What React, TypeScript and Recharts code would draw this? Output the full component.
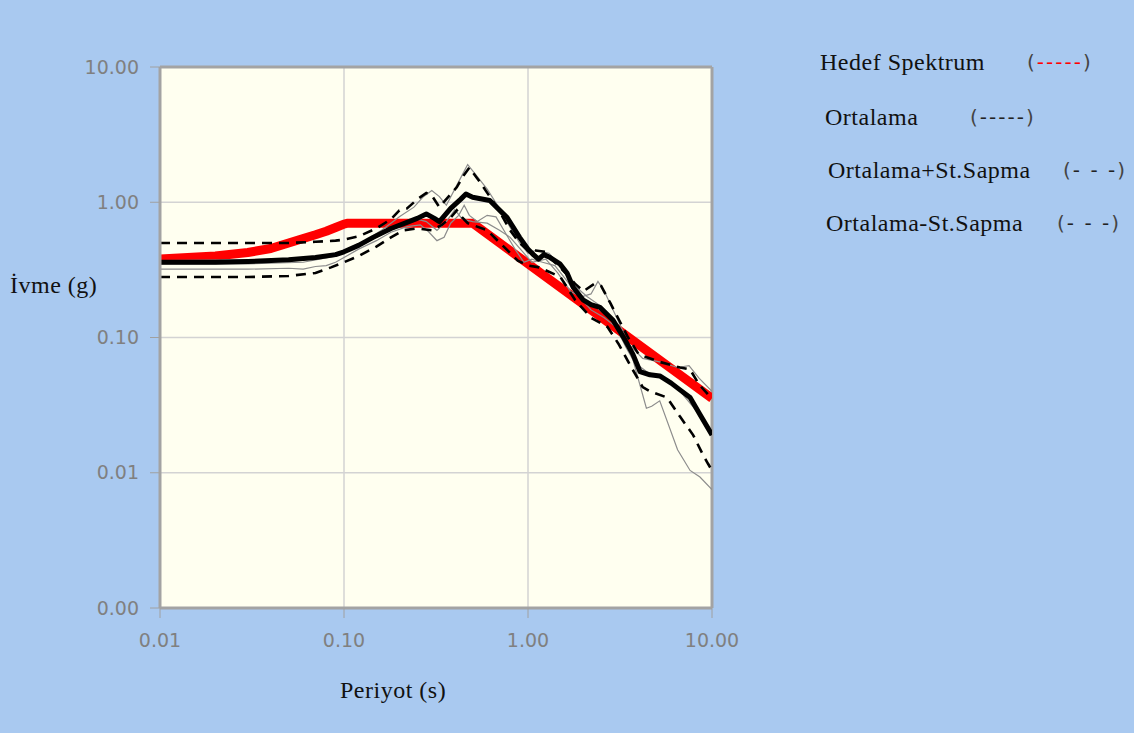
import React from "react";
import { LineChart, Line, XAxis, YAxis, CartesianGrid, ReferenceLine } from "recharts";

// Period ticks (s) and acceleration ticks (g)
const periodTicks = [0.01, 0.1, 1, 10];
const accelTicks = [0.001, 0.01, 0.1, 1, 10];

// Target design spectrum: [T, Sa]
const hedefSpektrum: [number, number][] = [
  [0.01, 0.38], [0.02, 0.4], [0.03, 0.425], [0.04, 0.455], [0.05, 0.5],
  [0.06, 0.54], [0.07, 0.575], [0.08, 0.61], [0.09, 0.65], [0.1, 0.69],
  [0.105, 0.7], [0.5, 0.7], [10, 0.0355],
];

// Mean of the scaled records
const ortalama: [number, number][] = [
  [0.01, 0.36], [0.02, 0.36], [0.03, 0.365], [0.05, 0.375], [0.07, 0.39],
  [0.09, 0.41], [0.1, 0.43], [0.12, 0.48], [0.144, 0.55], [0.18, 0.64],
  [0.22, 0.71], [0.25, 0.76], [0.28, 0.82], [0.31, 0.76], [0.33, 0.72],
  [0.38, 0.9], [0.43, 1.05], [0.46, 1.15], [0.5, 1.09], [0.62, 1.03],
  [0.77, 0.77], [0.9, 0.55], [1.0, 0.45], [1.07, 0.41], [1.14, 0.38],
  [1.22, 0.41], [1.32, 0.39], [1.49, 0.35], [1.63, 0.3], [1.76, 0.235],
  [1.99, 0.19], [2.2, 0.175], [2.46, 0.167], [2.9, 0.134], [3.28, 0.102],
  [3.72, 0.075], [4.06, 0.056], [4.6, 0.053], [5.2, 0.052], [6.0, 0.046],
  [6.7, 0.041], [7.6, 0.036], [8.6, 0.027], [10, 0.019],
];

// Mean + one standard deviation
const ortalamaArti: [number, number][] = [
  [0.01, 0.5], [0.02, 0.5], [0.03, 0.5], [0.05, 0.5], [0.07, 0.51],
  [0.09, 0.52], [0.1, 0.53], [0.12, 0.56], [0.15, 0.64], [0.18, 0.75],
  [0.2, 0.87], [0.22, 0.9], [0.25, 1.05], [0.28, 1.17], [0.3, 1.12],
  [0.33, 0.92], [0.37, 1.1], [0.41, 1.29], [0.45, 1.6], [0.48, 1.8],
  [0.55, 1.4], [0.65, 1.0], [0.72, 0.8], [0.8, 0.62], [0.9, 0.5],
  [1.0, 0.44], [1.1, 0.44], [1.25, 0.43], [1.4, 0.36], [1.6, 0.3],
  [1.8, 0.25], [2.0, 0.22], [2.3, 0.25], [2.5, 0.24], [2.8, 0.18],
  [3.0, 0.15], [3.5, 0.1], [4.0, 0.075], [5.2, 0.066], [6.7, 0.06],
  [7.6, 0.058], [8.5, 0.045], [9.5, 0.038], [10, 0.036],
];

// Mean - one standard deviation
const ortalamaEksi: [number, number][] = [
  [0.01, 0.28], [0.02, 0.28], [0.03, 0.28], [0.05, 0.285], [0.07, 0.3],
  [0.085, 0.33], [0.1, 0.36], [0.12, 0.4], [0.15, 0.47], [0.18, 0.55],
  [0.21, 0.62], [0.25, 0.64], [0.3, 0.62], [0.34, 0.68], [0.38, 0.77],
  [0.41, 0.87], [0.44, 0.77], [0.47, 0.7], [0.6, 0.62], [0.75, 0.46],
  [0.88, 0.37], [1.0, 0.34], [1.15, 0.33], [1.5, 0.28], [1.8, 0.19],
  [2.2, 0.14], [2.7, 0.12], [3.1, 0.09], [3.6, 0.062], [4.2, 0.043],
  [4.6, 0.04], [5.7, 0.036], [6.7, 0.026], [7.9, 0.019], [8.9, 0.0137],
  [9.5, 0.0117], [10, 0.0104],
];

// Individual record spectra
const kayit1: [number, number][] = [
  [0.01, 0.37], [0.05, 0.38], [0.08, 0.4], [0.1, 0.44], [0.13, 0.52],
  [0.16, 0.62], [0.2, 0.78], [0.24, 0.92], [0.27, 1.1], [0.3, 1.22],
  [0.33, 1.1], [0.36, 0.95], [0.4, 1.25], [0.44, 1.6], [0.47, 1.9],
  [0.52, 1.6], [0.6, 1.25], [0.7, 0.9], [0.8, 0.65], [0.9, 0.5],
  [1.0, 0.42], [1.1, 0.44], [1.3, 0.42], [1.5, 0.34], [1.8, 0.24],
  [2.1, 0.2], [2.5, 0.17], [3.0, 0.13], [3.5, 0.09], [4.2, 0.07],
  [5.2, 0.066], [6.5, 0.06], [7.5, 0.062], [8.5, 0.05], [10, 0.04],
];
const kayit2: [number, number][] = [
  [0.01, 0.32], [0.03, 0.32], [0.05, 0.325], [0.06, 0.32], [0.07, 0.335],
  [0.08, 0.34], [0.09, 0.36], [0.1, 0.39], [0.12, 0.45], [0.15, 0.52],
  [0.18, 0.6], [0.22, 0.66], [0.26, 0.68], [0.29, 0.6], [0.32, 0.52],
  [0.35, 0.55], [0.38, 0.7], [0.42, 0.8], [0.45, 0.95], [0.48, 0.8],
  [0.53, 0.72], [0.6, 0.8], [0.67, 0.78], [0.75, 0.6], [0.85, 0.45],
  [0.95, 0.36], [1.05, 0.38], [1.2, 0.36], [1.4, 0.34], [1.6, 0.27],
  [1.9, 0.2], [2.2, 0.16], [2.6, 0.14], [3.0, 0.12], [3.4, 0.085],
  [3.8, 0.065], [4.5, 0.055], [5.5, 0.05], [6.5, 0.042], [8, 0.03], [10, 0.02],
];
const kayit3: [number, number][] = [
  [0.01, 0.35], [0.03, 0.35], [0.06, 0.36], [0.09, 0.4], [0.1, 0.42],
  [0.13, 0.5], [0.17, 0.6], [0.2, 0.66], [0.25, 0.75], [0.28, 0.72],
  [0.32, 0.62], [0.36, 0.72], [0.4, 0.88], [0.44, 0.75], [0.5, 0.72],
  [0.6, 0.7], [0.7, 0.62], [0.8, 0.55], [0.95, 0.42], [1.05, 0.36],
  [1.25, 0.38], [1.45, 0.3], [1.7, 0.22], [1.95, 0.2], [2.2, 0.21],
  [2.4, 0.26], [2.6, 0.22], [2.9, 0.16], [3.3, 0.11], [3.7, 0.07],
  [4.4, 0.03], [4.7, 0.031], [5.2, 0.034], [6.5, 0.0148], [7.6, 0.0104],
  [8.6, 0.0093], [10, 0.0075],
];

const toRows = (pts: [number, number][]) => pts.map(([T, v]) => ({ T, v }));

const fmt = (v: number) => v.toFixed(2);

const tickStyle = { fontFamily: "DejaVu Sans", fontSize: 19, fill: "#808080" };
const frame = "#a3a3a3";

const serif = "'Liberation Serif', 'Times New Roman', serif";
const titleStyle: React.CSSProperties = {
  position: "absolute",
  fontFamily: serif,
  fontSize: 24,
  lineHeight: "30px",
  color: "#111",
  letterSpacing: 0.5,
  whiteSpace: "nowrap",
};

const legendRows = [
  { label: "Hedef Spektrum", left: 820, top: 62, mark: "-----", markLeft: 1027, markColor: "#ff0000" },
  { label: "Ortalama", left: 825, top: 117, mark: "-----", markLeft: 970, markColor: "#222" },
  { label: "Ortalama+St.Sapma", left: 828, top: 170, mark: "- - -", markLeft: 1063, markColor: "#222" },
  { label: "Ortalama-St.Sapma", left: 826, top: 223, mark: "- - -", markLeft: 1057, markColor: "#222" },
];

export default function App() {
  return (
    <div
      style={{
        position: "absolute",
        left: 0,
        top: 0,
        width: 1134,
        height: 733,
        background: "#a9c9f0",
        overflow: "hidden",
      }}
    >
      <LineChart width={1134} height={733} margin={{ top: 67, right: 422, bottom: 85, left: 0 }}>
        <CartesianGrid fill="#fffff0" stroke="#d3d3d3" strokeWidth={1.5} />
        <XAxis
          type="number"
          dataKey="T"
          scale="log"
          domain={[0.01, 10]}
          ticks={periodTicks}
          allowDataOverflow
          tickFormatter={fmt}
          height={40}
          tickSize={10}
          tickMargin={16}
          tick={tickStyle}
          axisLine={{ stroke: frame, strokeWidth: 3 }}
          tickLine={{ stroke: "#a0a0a0" }}
        />
        <YAxis
          type="number"
          dataKey="v"
          scale="log"
          domain={[0.001, 10]}
          ticks={accelTicks}
          allowDataOverflow
          tickFormatter={fmt}
          width={160}
          tickSize={10}
          tickMargin={11}
          tick={tickStyle}
          axisLine={{ stroke: frame, strokeWidth: 3 }}
          tickLine={{ stroke: "#a0a0a0" }}
        />
        <ReferenceLine y={10} stroke={frame} strokeWidth={3} ifOverflow="visible" />
        <ReferenceLine x={10} stroke={frame} strokeWidth={3} ifOverflow="visible" />

        <Line data={toRows(hedefSpektrum)} dataKey="v" stroke="#ff0000" strokeWidth={9} dot={false} isAnimationActive={false} strokeLinejoin="round" />
        <Line data={toRows(kayit1)} dataKey="v" stroke="#8c8c8c" strokeWidth={1.2} dot={false} isAnimationActive={false} />
        <Line data={toRows(kayit2)} dataKey="v" stroke="#8c8c8c" strokeWidth={1.2} dot={false} isAnimationActive={false} />
        <Line data={toRows(kayit3)} dataKey="v" stroke="#8c8c8c" strokeWidth={1.2} dot={false} isAnimationActive={false} />
        <Line data={toRows(ortalamaArti)} dataKey="v" stroke="#000" strokeWidth={2.6} strokeDasharray="10 7" dot={false} isAnimationActive={false} />
        <Line data={toRows(ortalamaEksi)} dataKey="v" stroke="#000" strokeWidth={2.6} strokeDasharray="10 7" dot={false} isAnimationActive={false} />
        <Line data={toRows(ortalama)} dataKey="v" stroke="#000" strokeWidth={5} dot={false} isAnimationActive={false} strokeLinejoin="round" />
      </LineChart>

      <div style={{ ...titleStyle, left: 10, top: 270 }}>İvme (g)</div>
      <div style={{ ...titleStyle, left: 340, top: 675 }}>Periyot (s)</div>

      {legendRows.map((r) => (
        <React.Fragment key={r.label}>
          <div style={{ ...titleStyle, left: r.left, top: r.top - 15 }}>{r.label}</div>
          <div style={{ position: "absolute", left: r.markLeft, top: r.top - 13, fontFamily: "DejaVu Sans", fontSize: 20, lineHeight: "26px", color: "#444", letterSpacing: 2, whiteSpace: "pre" }}>
            (<span style={{ color: r.markColor }}>{r.mark}</span>)
          </div>
        </React.Fragment>
      ))}
    </div>
  );
}
